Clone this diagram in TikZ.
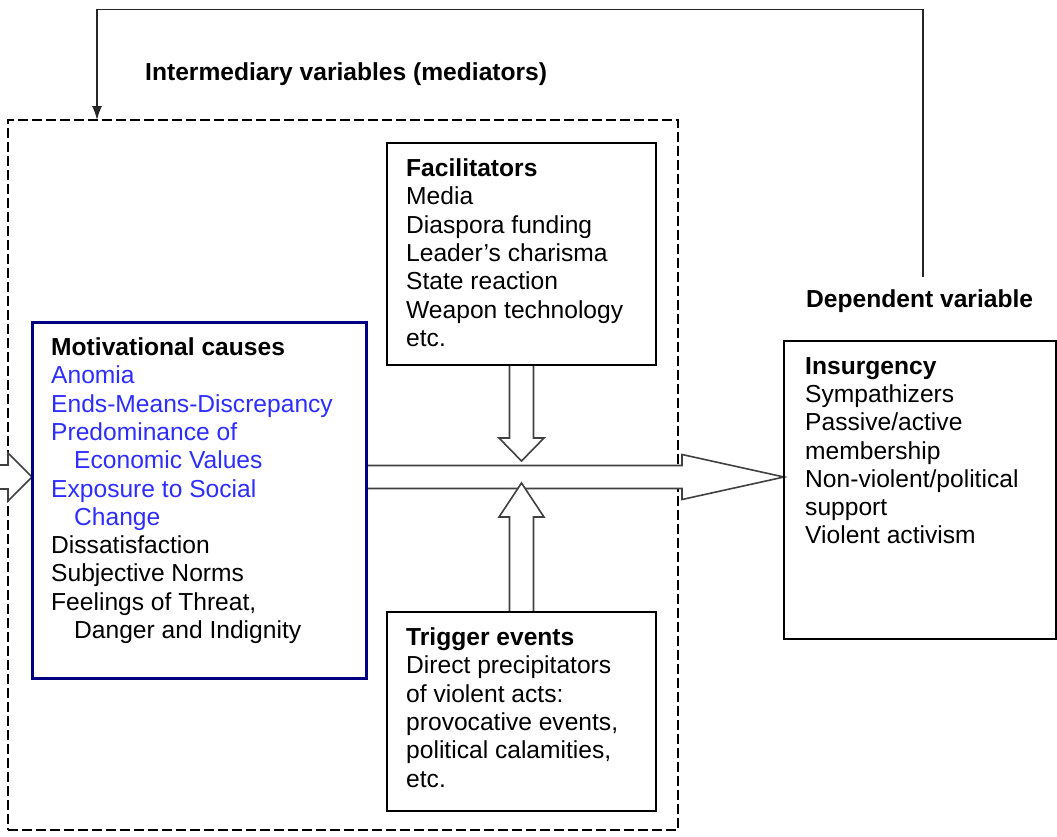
\documentclass[tikz,border=0pt]{standalone}
\usepackage{fontspec}
\setmainfont{Liberation Sans}
\usetikzlibrary{arrows.meta,positioning,backgrounds}
\definecolor{causeblue}{RGB}{45,45,255}
\definecolor{causeframe}{RGB}{0,0,128}
\tikzset{
  box/.style={draw, line width=1.8pt, inner sep=0pt, outer sep=0pt, anchor=north west},
  causebox/.style={box, draw=causeframe, line width=3pt},
  boxtext/.style={align=left, inner sep=0pt, font=\fontsize{24.6}{28.3}\selectfont},
  heading/.style={inner sep=0pt, anchor=base west, font=\fontsize{24.6}{28.3}\selectfont\bfseries},
  blockarrow/.style={draw=black!75, line width=1.6pt, fill=white, line join=miter},
  feedback/.style={draw=black!85, line width=1.5pt, -{Latex[length=14pt,width=10pt]}},
  mediatorframe/.style={draw, line width=1.5pt, dash pattern=on 10pt off 4pt, inner sep=0pt, outer sep=0pt, anchor=north west}
}
\def\makeblockarrow#1#2#3#4#5{
  \begin{scope}[#1]
    \draw[blockarrow] (0,-#4) -- (#2-#3,-#4) -- (#2-#3,-#5) -- (#2,0)
      -- (#2-#3,#5) -- (#2-#3,#4) -- (0,#4);
  \end{scope}
}

\begin{document}
\begin{tikzpicture}[x=1pt,y=-1pt]
  \useasboundingbox (0,0) rectangle (1057,836);

  \node[causebox, minimum width=334pt, minimum height=356pt] (motiv) at (32,322) {};
  \node[box, minimum width=269pt, minimum height=222pt] (facil) at (387,143) {};
  \node[box, minimum width=269pt, minimum height=199pt] (trigger) at (387,612) {};
  \node[box, minimum width=272pt, minimum height=298pt] (insurg) at (784,341) {};

  \node[boxtext, below right=15.5pt and 19pt of motiv.north west] (motivtext) {%
    \textbf{Motivational causes}\\
    \textcolor{causeblue}{Anomia}\\
    \textcolor{causeblue}{Ends-Means-Discrepancy}\\
    \textcolor{causeblue}{Predominance of}\\
    \textcolor{causeblue}{\hspace*{23pt}Economic Values}\\
    \textcolor{causeblue}{Exposure to Social}\\
    \textcolor{causeblue}{\hspace*{23pt}Change}\\
    Dissatisfaction\\
    Subjective Norms\\
    Feelings of Threat,\\
    \hspace*{23pt}Danger and Indignity};
  \node[boxtext, below right=15.5pt and 19pt of facil.north west] (faciltext) {%
    \textbf{Facilitators}\\
    Media\\
    Diaspora funding\\
    Leader’s charisma\\
    State reaction\\
    Weapon technology\\
    etc.};
  \node[boxtext, below right=15.5pt and 19pt of trigger.north west] (triggertext) {%
    \textbf{Trigger events}\\
    Direct precipitators\\
    of violent acts:\\
    provocative events,\\
    political calamities,\\
    etc.};
  \node[boxtext, below right=16pt and 21pt of insurg.north west] (insurgtext) {%
    \textbf{Insurgency}\\
    Sympathizers\\
    Passive/active\\
    membership\\
    Non-violent/political\\
    support\\
    Violent activism};

  \node[heading] (medlabel) at (145,80) {Intermediary variables (mediators)};
  \node[heading] (deplabel) at (806,307) {Dependent variable};

  \begin{pgfonlayer}{background}
    \node[mediatorframe, minimum width=670pt, minimum height=710pt] (medframe) at (8,120) {};
    \coordinate (flowin) at (motiv.east |- 0,477);
    \coordinate (sidein) at (0,477);
    \makeblockarrow{shift={(sidein)}}{32}{24}{12}{24}
    \makeblockarrow{shift={(flowin)}}{418}{102}{11.5}{22.5}
    \makeblockarrow{shift={(facil.south)},rotate=-90}{96}{23}{12}{22.5}
    \makeblockarrow{shift={(trigger.north)},rotate=90}{129}{34}{12}{22.5}
  \end{pgfonlayer}

  \coordinate (fbstart) at (923,277);
  \coordinate (fbcorner) at (97,9.5);
  \draw[feedback] (fbstart) |- (fbcorner) -- (fbcorner |- medframe.north);
\end{tikzpicture}
\end{document}
